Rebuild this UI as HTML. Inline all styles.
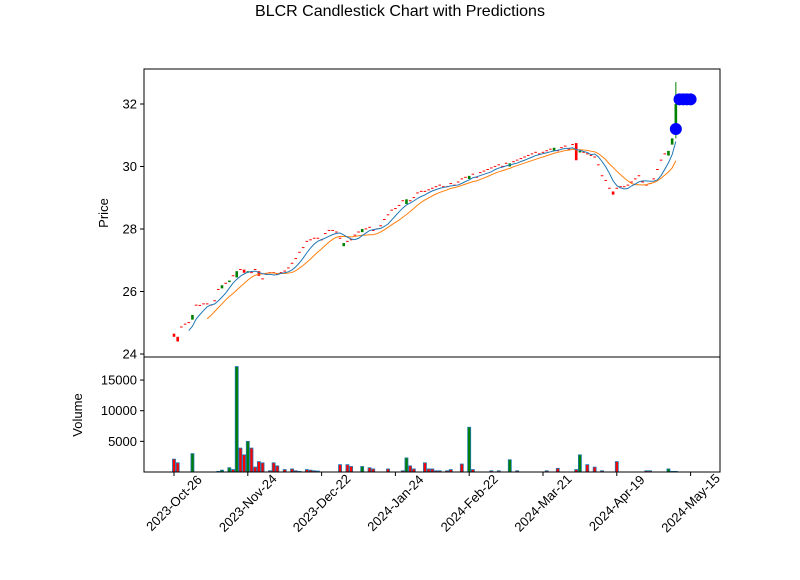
<!DOCTYPE html>
<html><head><meta charset="utf-8"><style>
body{margin:0;background:#fff}
svg text{font-family:"Liberation Sans",sans-serif;fill:#000}
</style></head><body>
<svg id="c" width="800" height="575" viewBox="0 0 800 575" xmlns="http://www.w3.org/2000/svg">
<rect width="800" height="575" fill="#fff"/>
<text x="400" y="16" font-size="16" text-anchor="middle">BLCR Candlestick Chart with Predictions</text>
<g id="price"></g><g id="vol"></g>
<rect x="144" y="69" width="576" height="288" fill="none" stroke="#000" stroke-width="1"/>
<rect x="144" y="357" width="576" height="115" fill="none" stroke="#000" stroke-width="1"/>
<text transform="translate(108,213) rotate(-90)" font-size="13" text-anchor="middle">Price</text>
<text transform="translate(82,415) rotate(-90)" font-size="13" text-anchor="middle">Volume</text>
</svg>
<script>
const closes=[24.55,24.40,24.85,24.95,25.0,25.25,25.55,25.55,25.6,25.6,
25.55,25.7,26.05,26.2,26.25,26.35,26.5,26.65,26.7,26.6,
26.65,26.6,26.7,26.5,26.4,26.55,26.6,26.6,26.55,26.6,
26.65,26.75,26.9,27.05,27.25,27.4,27.6,27.65,27.7,27.7,
27.65,27.85,27.95,27.95,27.9,27.7,27.55,27.6,27.65,27.8,
27.9,28.0,28.0,28.05,27.95,28.0,28.1,28.3,28.45,28.6,
28.65,28.75,28.9,28.95,28.9,29.0,29.15,29.2,29.2,29.25,
29.3,29.35,29.4,29.35,29.35,29.45,29.4,29.5,29.6,29.65,
29.7,29.75,29.65,29.8,29.85,29.9,29.95,30.0,30.05,30.0,
30.1,30.1,30.15,30.2,30.25,30.3,30.35,30.4,30.45,30.4,
30.45,30.5,30.55,30.6,30.5,30.6,30.65,30.55,30.7,30.2,
30.5,30.45,30.4,30.35,30.3,30.05,29.7,29.55,29.3,29.1,
29.3,29.35,29.35,29.4,29.5,29.6,29.7,29.5,29.4,29.45,
29.6,29.9,30.2,30.4,30.5,30.9,32.0];
const opens=[24.65,24.55,24.88,24.97,25.02,25.1,25.58,25.57,25.62,25.62,
25.58,25.72,26.08,26.1,26.28,26.3,26.52,26.45,26.72,26.7,
26.6,26.62,26.72,26.65,26.42,26.57,26.62,26.62,26.57,26.62,
26.67,26.77,26.92,27.07,27.27,27.42,27.62,27.67,27.72,27.72,
27.67,27.87,27.97,27.97,27.92,27.72,27.45,27.62,27.67,27.82,
27.92,27.9,28.02,28.07,27.97,28.02,28.12,28.32,28.47,28.62,
28.67,28.77,28.92,28.8,28.92,29.02,29.17,29.22,29.22,29.27,
29.32,29.37,29.42,29.37,29.37,29.47,29.42,29.52,29.62,29.67,
29.6,29.77,29.67,29.82,29.87,29.92,29.97,30.02,30.07,30.02,
30.12,30.0,30.17,30.22,30.27,30.32,30.37,30.42,30.47,30.42,
30.47,30.52,30.57,30.5,30.52,30.62,30.67,30.57,30.72,30.75,
30.45,30.47,30.42,30.37,30.32,30.07,29.72,29.57,29.32,29.2,
29.32,29.37,29.37,29.42,29.52,29.62,29.72,29.52,29.42,29.47,
29.62,29.92,30.22,30.42,30.35,30.7,31.1];
const volumes=[2100,1500,0,0,0,3000,0,0,0,0,
0,0,100,300,0,700,400,17200,3900,2800,
5000,3900,800,1700,1500,0,200,1500,1000,0,
400,0,500,200,100,0,400,300,200,150,
0,0,0,0,0,1200,0,1200,900,0,
0,900,0,700,500,0,0,0,500,0,
0,0,200,2300,1000,500,0,0,1500,500,
500,200,200,0,200,400,0,0,1300,0,
7300,400,0,0,0,0,200,0,200,0,
0,2000,0,200,0,0,0,0,0,0,
0,200,0,0,600,0,0,0,0,400,
2800,0,1200,0,800,0,200,0,0,0,
1700,0,0,0,0,0,0,0,200,200,
0,0,0,0,500,100,100];
const predIdx=[136,137,138,139,140];
const predVals=[31.2,32.15,32.15,32.15,32.15];
const priceTicks=[24,26,28,30,32];
const volTicks=[5000,10000,15000];
const dateLabels=["2023-Oct-26","2023-Nov-24","2023-Dec-22","2024-Jan-24","2024-Feb-22","2024-Mar-21","2024-Apr-19","2024-May-15"];
const dateIdx=[0,20,40,60,80,100,120,140];

const NS="http://www.w3.org/2000/svg";
const X=i=>174+i*3.69;
const Y=p=>354-(p-24)*31.25;
const V=v=>472-v*0.00613;
const svg=document.getElementById('c'),pg=document.getElementById('price'),vg=document.getElementById('vol');
function mk(t,a,par){const e=document.createElementNS(NS,t);for(const k in a)e.setAttribute(k,a[k]);(par||svg).appendChild(e);return e;}

priceTicks.forEach(p=>{
 const t=mk('line',{x1:140,x2:144,y1:Y(p),y2:Y(p),stroke:'#000'});
 
 
 const l=mk('text',{x:137,y:Y(p)+4.5,'font-size':13,'text-anchor':'end'});l.textContent=p;
 
 
});
volTicks.forEach(v=>{
 const t=mk('line',{x1:140,x2:144,y1:V(v),y2:V(v),stroke:'#000'});
 
 
 const l=mk('text',{x:137,y:V(v)+4.5,'font-size':13,'text-anchor':'end'});l.textContent=v;
 
 
});
dateIdx.forEach((d,k)=>{
 const x=X(d);
 const t=mk('line',{x1:x,x2:x,y1:472,y2:476,stroke:'#000'});
 
 
 const l=mk('text',{x:0,y:4.5,'font-size':13,'text-anchor':'middle',transform:`translate(${x},${503}) rotate(-45)`});
 l.textContent=dateLabels[k];
 
 
});
closes.forEach((c,i)=>{
 const o=opens[i],up=c>=o,col=up?'#008000':'#ff0000';
 const top=Y(Math.max(o,c)),h=Math.max(1,Math.abs(Y(o)-Y(c)));
 const r=mk('rect',{x:X(i)-1.3,y:top,width:2.6,height:h,fill:col},pg);
 
 
 const v=volumes[i],vy=V(v);
 const b=mk('rect',{x:X(i)-1.5,y:vy,width:3,height:472-vy,fill:col,stroke:'#1f77b4','stroke-width':0.8},vg);
 
 
});
const w=mk('line',{x1:X(136),x2:X(136),y1:Y(32.7),y2:Y(30.9),stroke:'#008000','stroke-width':1},pg);


function ma(n,color,name){let pts=[];for(let i=n-1;i<closes.length;i++){let s=0;for(let j=i-n+1;j<=i;j++)s+=closes[j];pts.push(X(i)+','+Y(s/n));}
 const p=mk('polyline',{points:pts.join(' '),fill:'none',stroke:color,'stroke-width':1},pg);
 
 }
ma(10,'#ff7f0e','ma-10-line');
ma(5,'#1f77b4','ma-5-line');
predIdx.forEach((d,k)=>{
 const c=mk('circle',{cx:X(d),cy:Y(predVals[k]),r:6,fill:'#0000ff'},pg);
 
 
});
</script>
</body></html>
